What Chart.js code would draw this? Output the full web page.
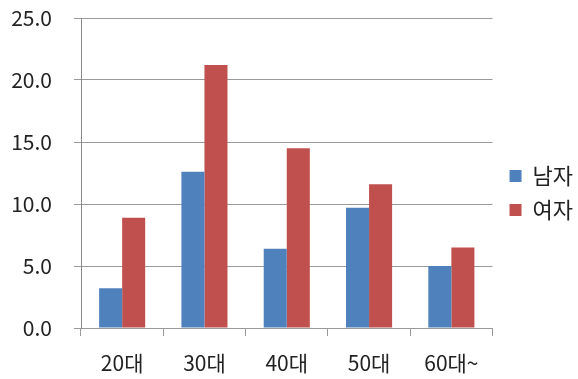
<!DOCTYPE html>
<html><head><meta charset="utf-8">
<script src="https://cdn.jsdelivr.net/npm/chart.js@4/dist/chart.umd.min.js"></script>
<style>html,body{margin:0;padding:0;background:#fff}#wrap{width:578px;height:379px}</style>
</head><body><div id="wrap"><canvas id="c" width="578" height="379"></canvas></div>
<script>
const categories = ['20대', '30대', '40대', '50대', '60대~'];
const male = [3.2, 12.6, 6.4, 9.7, 5.0];
const female = [8.9, 21.2, 14.5, 11.6, 6.5];
const seriesNames = ['남자', '여자'];
const yTicks = [0, 5, 10, 15, 20, 25];

const FONT = "'Noto Sans CJK KR', 'Noto Sans', sans-serif";
const gridColor = '#9a9a9a';
new Chart(document.getElementById('c'), {
  type: 'bar',
  data: {
    labels: categories,
    datasets: [
      { label: seriesNames[0], data: male, backgroundColor: '#4F81BD', categoryPercentage: 0.56, barPercentage: 1.0 },
      { label: seriesNames[1], data: female, backgroundColor: '#C0504D', categoryPercentage: 0.56, barPercentage: 1.0 }
    ]
  },
  options: {
    responsive: false,
    animation: false,
    devicePixelRatio: 1,
    layout: { padding: { top: 0, bottom: 0, left: 0, right: -5 } },
    plugins: {
      title: { display: true, fullSize: false, text: ' ', font: { size: 10, lineHeight: 1.2 }, padding: { top: 3, bottom: 3 } },
      legend: {
        position: 'right',
        labels: { font: { family: FONT, size: 22 }, color: '#222', boxWidth: 12, boxHeight: 12, padding: 12 },
        title: { display: true, text: ' ', font: { size: 1 }, padding: 3 }
      },
      tooltip: { enabled: false }
    },
    scales: {
      x: {
        grid: { drawOnChartArea: false, drawTicks: true, tickLength: 8, color: gridColor, offset: true },
        border: { color: gridColor },
        ticks: { font: { family: FONT, size: 21 }, color: '#222', padding: 14 },
        afterFit: s => { s.height = 51; }
      },
      y: {
        min: 0, max: 25,
        afterBuildTicks: s => { s.ticks = yTicks.map(v => ({ value: v })); },
        grid: { color: gridColor, tickLength: 7 },
        border: { color: '#8a8a8a' },
        ticks: { font: { family: FONT, size: 21 }, color: '#222', padding: 22, callback: v => Number(v).toFixed(1) },
        afterFit: s => { s.width = 81; s.paddingTop = 0; s.paddingBottom = 0; }
      },
      yGap: {
        axis: 'y', position: 'right', display: true,
        grid: { display: false, drawTicks: false }, border: { display: false },
        ticks: { display: false },
        afterFit: s => { s.width = 5; s.paddingTop = 0; s.paddingBottom = 0; }
      }
    }
  }
});
</script></body></html>
